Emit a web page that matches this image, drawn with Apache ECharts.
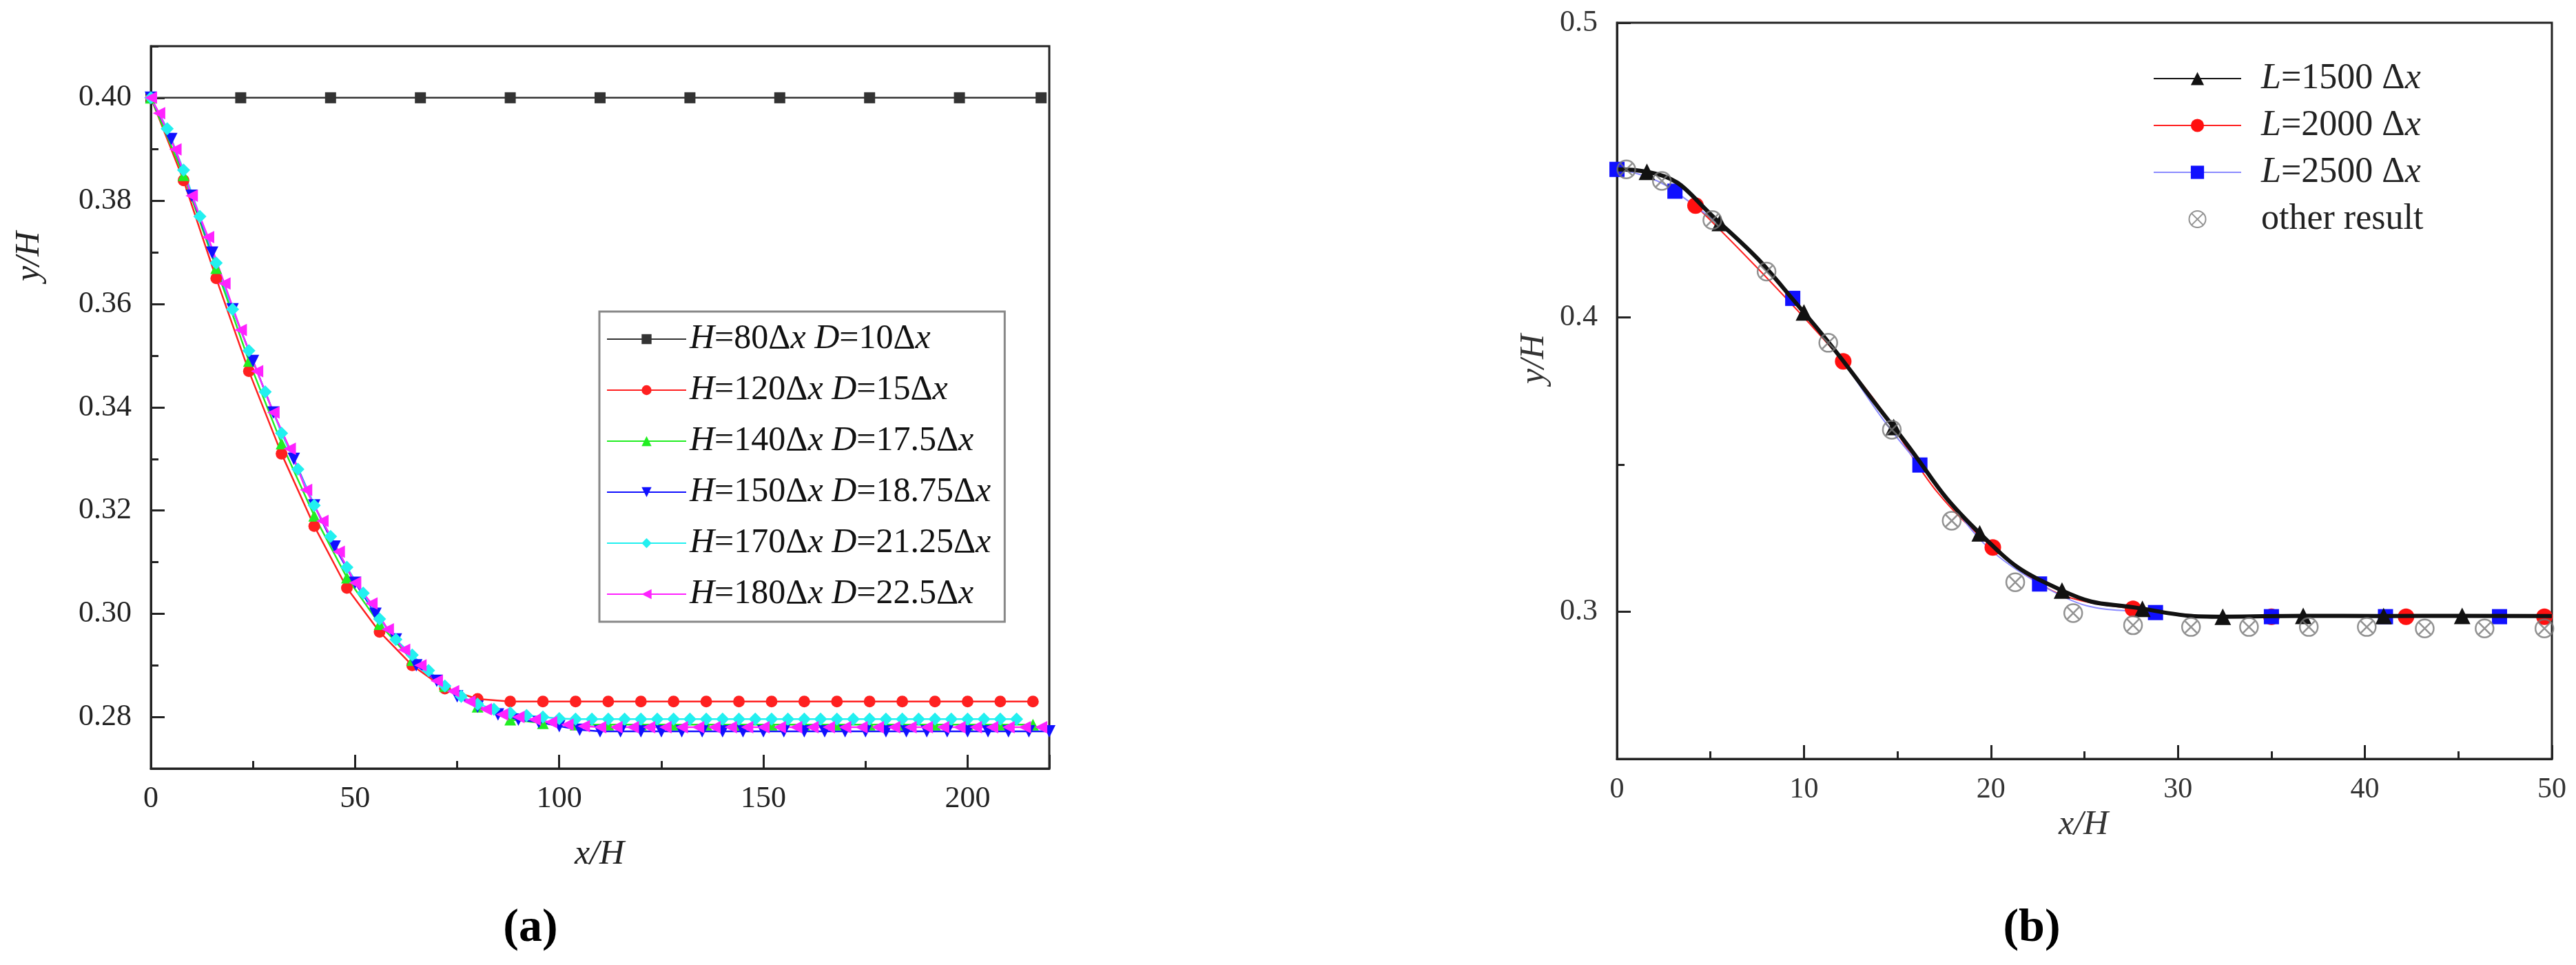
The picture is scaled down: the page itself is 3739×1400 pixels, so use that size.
<!DOCTYPE html>
<html><head><meta charset="utf-8">
<script src="https://cdn.jsdelivr.net/npm/echarts@6/dist/echarts.min.js"></script>
<style>html,body{margin:0;padding:0;background:#fff}#c{width:3739px;height:1400px}</style>
</head><body><div id="c"></div>
<script>
// ---------- Panel (a) data ----------
const aLabels = ['H=80Δx D=10Δx','H=120Δx D=15Δx','H=140Δx D=17.5Δx','H=150Δx D=18.75Δx','H=170Δx D=21.25Δx','H=180Δx D=22.5Δx'];
const aBlackX = [0,22,44,66,88,110,132,154,176,198,218];
const aBlackY = [0.40,0.40,0.40,0.40,0.40,0.40,0.40,0.40,0.40,0.40,0.40];
const aRedX = [0,8,16,24,32,40,48,56,64,72,80,88,96,104,112,120,128,136,144,152,160,168,176,184,192,200,208,216];
const aRedY = [0.400,0.384,0.365,0.347,0.331,0.317,0.305,0.2965,0.290,0.2855,0.2835,0.283,0.283,0.283,0.283,0.283,0.283,0.283,0.283,0.283,0.283,0.283,0.283,0.283,0.283,0.283,0.283,0.283];
const aGreenX = [0,8,16,24,32,40,48,56,64,72,80,88,96,104,112,120,128,136,144,152,160,168,176,184,192,200,208,216];
const aGreenY = [0.400,0.385,0.367,0.349,0.333,0.319,0.307,0.298,0.291,0.286,0.282,0.2795,0.2788,0.2785,0.2785,0.2785,0.2785,0.2785,0.2785,0.2785,0.2785,0.2785,0.2785,0.2785,0.2785,0.2785,0.2785,0.2785];
const aBlueX = [0,5,10,15,20,25,30,35,40,45,50,55,60,65,70,75,80,85,90,95,100,105,110,115,120,125,130,135,140,145,150,155,160,165,170,175,180,185,190,195,200,205,210,215,220];
const aBlueY = [0.400,0.392,0.381,0.370,0.359,0.349,0.339,0.330,0.321,0.313,0.306,0.300,0.295,0.290,0.287,0.284,0.282,0.2805,0.2795,0.279,0.2782,0.2775,0.2772,0.2772,0.2772,0.2772,0.2772,0.2772,0.2772,0.2772,0.2772,0.2772,0.2772,0.2772,0.2772,0.2772,0.2772,0.2772,0.2772,0.2772,0.2772,0.2772,0.2772,0.2772,0.2772];
const aCyanX = [0,4,8,12,16,20,24,28,32,36,40,44,48,52,56,60,64,68,72,76,80,84,88,92,96,100,104,108,112,116,120,124,128,132,136,140,144,148,152,156,160,164,168,172,176,180,184,188,192,196,200,204,208,212];
const aCyanY = [0.400,0.394,0.386,0.377,0.368,0.359,0.351,0.343,0.335,0.328,0.321,0.315,0.309,0.304,0.299,0.295,0.292,0.289,0.286,0.284,0.2825,0.2815,0.2808,0.2803,0.280,0.2797,0.2796,0.2796,0.2796,0.2796,0.2796,0.2796,0.2796,0.2796,0.2796,0.2796,0.2796,0.2796,0.2796,0.2796,0.2796,0.2796,0.2796,0.2796,0.2796,0.2796,0.2796,0.2796,0.2796,0.2796,0.2796,0.2796,0.2796,0.2796];
const aMagX = [0,2,6,10,14,18,22,26,30,34,38,42,46,50,54,58,62,66,70,74,78,82,86,90,94,98,102,106,110,114,118,122,126,130,134,138,142,146,150,154,158,162,166,170,174,178,182,186,190,194,198,202,206,210,214,218];
const aMagY = [0.400,0.397,0.390,0.381,0.373,0.364,0.355,0.347,0.339,0.332,0.324,0.318,0.312,0.306,0.302,0.297,0.293,0.290,0.287,0.285,0.283,0.2815,0.2805,0.280,0.2795,0.279,0.2785,0.2782,0.278,0.278,0.278,0.278,0.278,0.278,0.278,0.278,0.278,0.278,0.278,0.278,0.278,0.278,0.278,0.278,0.278,0.278,0.278,0.278,0.278,0.278,0.278,0.278,0.278,0.278,0.278,0.278];
const aYTicks = [0.28,0.30,0.32,0.34,0.36,0.38,0.40];
const aYMinor = [0.27,0.29,0.31,0.33,0.35,0.37,0.39,0.41];

// ---------- Panel (b) data ----------
const bLabels = ['L=1500Δx','L=2000Δx','L=2500Δx','other result'];
const bBlackX = [0,1.6,5.5,10,14.8,19.4,23.8,28.1,32.4,36.7,41.0,45.2,50];
const bBlackY = [0.4502,0.4494,0.432,0.4016,0.3627,0.3266,0.3072,0.301,0.2983,0.2986,0.2985,0.2986,0.2985];
const bRedX = [4.2,12.1,20.1,27.6,35.0,42.2,49.6];
const bRedY = [0.4379,0.385,0.3218,0.301,0.2983,0.2983,0.2983];
const bBlueX = [0,3.1,9.4,16.2,22.6,28.8,35,41.1,47.2];
const bBlueY = [0.4502,0.4428,0.4064,0.3498,0.3094,0.2997,0.2983,0.2983,0.2983];
const bOtherX = [0.5,2.4,5.1,8.0,11.3,14.7,17.9,21.3,24.4,27.6,30.7,33.8,37.0,40.1,43.2,46.4,49.6];
const bOtherY = [0.4502,0.4463,0.433,0.4155,0.3913,0.3618,0.3309,0.31,0.2995,0.2954,0.2948,0.2948,0.2948,0.2948,0.2943,0.2943,0.2943];
const bYTicks = [0.3,0.4,0.5];
const bYMinor = [0.25,0.35,0.45];

const F = 'Liberation Serif';
const zip = (xs, ys) => xs.map((x, i) => [x, ys[i]]);
const richIt = {i:{fontStyle:'italic',fontFamily:F,fontSize:50}};
function fmtA(n){
  return n.replace(/([HD])=/g,'{i|$1}=').replace(/Δx/g,'Δ{i|x}');
}
function fmtB(n){
  if(n.startsWith('L=')) return '{i|L}=' + n.slice(2).replace('Δx',' Δ{i|x}');
  return n;
}
const axisLineS = {show:true, lineStyle:{color:'#222', width:3}};
const aLine = (name, xs, ys, color, symbol, size, rot) => ({
  name, type:'line', xAxisIndex:0, yAxisIndex:0, data: zip(xs, ys),
  symbol, symbolSize:size, symbolRotate:rot||0, showAllSymbol:true,
  lineStyle:{color, width:2.5}, itemStyle:{color}, animation:false
});

const opt = {
  animation:false,
  grid:[
    {left:219, top:67, width:1304, height:1048, show:true, borderColor:'#222', borderWidth:3, backgroundColor:'transparent'},
    {left:2347, top:33, width:1357, height:1068, show:true, borderColor:'#222', borderWidth:3, backgroundColor:'transparent'}
  ],
  xAxis:[
    {type:'value', gridIndex:0, min:0, max:220, interval:50, axisLine:axisLineS,
     axisTick:{inside:true, length:20, lineStyle:{width:3,color:'#222'}},
     minorTick:{show:true, splitNumber:2, length:11, lineStyle:{width:3,color:'#222'}},
     splitLine:{show:false}, axisLabel:{showMaxLabel:false, fontFamily:F, fontSize:44, color:'#222', margin:22}},
    {type:'value', gridIndex:1, min:0, max:50, interval:10, axisLine:axisLineS,
     axisTick:{inside:true, length:20, lineStyle:{width:3,color:'#222'}},
     minorTick:{show:true, splitNumber:2, length:11, lineStyle:{width:3,color:'#222'}},
     splitLine:{show:false}, axisLabel:{fontFamily:F, fontSize:42, color:'#333', margin:24}}
  ],
  yAxis:[
    {type:'value', gridIndex:0, position:'left', min:0.27, max:0.41, axisLine:axisLineS,
     axisTick:{inside:true, length:20, customValues:aYTicks, lineStyle:{width:3,color:'#222'}},
     splitLine:{show:false},
     axisLabel:{customValues:aYTicks, formatter:v=>v.toFixed(2), fontFamily:F, fontSize:44, color:'#222', margin:28}},
    {type:'value', gridIndex:0, position:'left', offset:0, min:0.27, max:0.41, axisLine:{show:false},
     axisTick:{inside:true, length:11, customValues:aYMinor, lineStyle:{width:3,color:'#222'}},
     splitLine:{show:false}, axisLabel:{show:false}},
    {type:'value', gridIndex:1, position:'left', min:0.25, max:0.5, axisLine:axisLineS,
     axisTick:{inside:true, length:20, customValues:bYTicks, lineStyle:{width:3,color:'#222'}},
     splitLine:{show:false},
     axisLabel:{customValues:bYTicks, formatter:v=>v.toFixed(1), fontFamily:F, fontSize:44, color:'#333', margin:28}},
    {type:'value', gridIndex:1, position:'left', offset:0, min:0.25, max:0.5, axisLine:{show:false},
     axisTick:{inside:true, length:11, customValues:bYMinor, lineStyle:{width:3,color:'#222'}},
     splitLine:{show:false}, axisLabel:{show:false}}
  ],
  legend:[
    {data:aLabels, left:870, top:452, orient:'vertical', backgroundColor:'#fff',
     borderColor:'#888', borderWidth:3, padding:[14,20,14,10], itemGap:22,
     itemWidth:115, itemHeight:18,
     textStyle:{fontFamily:F, fontSize:50, lineHeight:52, color:'#111', rich:richIt}, formatter:fmtA},
    {data:bLabels, left:3120, top:82, orient:'vertical', itemGap:14,
     itemWidth:127, itemHeight:24,
     textStyle:{fontFamily:F, fontSize:52, lineHeight:54, color:'#222', padding:[0,0,0,24],
       rich:{i:{fontStyle:'italic',fontFamily:F,fontSize:52}}}, formatter:fmtB}
  ],
  graphic:[
    {type:'text', x:870, y:1240, style:{text:'x/H', font:'italic 50px "Liberation Serif"', fill:'#222', textAlign:'center', textVerticalAlign:'middle'}},
    {type:'text', x:3024, y:1197, style:{text:'x/H', font:'italic 50px "Liberation Serif"', fill:'#333', textAlign:'center', textVerticalAlign:'middle'}},
    {type:'text', x:43, y:372, rotation:Math.PI/2, style:{text:'y/H', font:'italic 50px "Liberation Serif"', fill:'#222', textAlign:'center', textVerticalAlign:'middle'}},
    {type:'text', x:2227, y:521, rotation:Math.PI/2, style:{text:'y/H', font:'italic 50px "Liberation Serif"', fill:'#333', textAlign:'center', textVerticalAlign:'middle'}},
    {type:'text', x:770, y:1347, style:{text:'(a)', font:'bold 68px "Liberation Serif"', fill:'#000', textAlign:'center', textVerticalAlign:'middle'}},
    {type:'text', x:2949, y:1347, style:{text:'(b)', font:'bold 68px "Liberation Serif"', fill:'#000', textAlign:'center', textVerticalAlign:'middle'}}
  ],
  series:[
    aLine(aLabels[0], aBlackX, aBlackY, '#333', 'rect', 16),
    aLine(aLabels[1], aRedX, aRedY, '#ff2020', 'circle', 17),
    aLine(aLabels[2], aGreenX, aGreenY, '#22ee22', 'triangle', 17),
    aLine(aLabels[3], aBlueX, aBlueY, '#1010ff', 'triangle', 18, 180),
    aLine(aLabels[4], aCyanX, aCyanY, '#22f0f0', 'diamond', 19),
    aLine(aLabels[5], aMagX, aMagY, '#ff22ff', 'triangle', 18, 90),
    {name:bLabels[1], type:'line', xAxisIndex:1, yAxisIndex:2, data:zip(bRedX,bRedY), smooth:true,
     symbol:'circle', symbolSize:24, lineStyle:{color:'#ff2020', width:2}, itemStyle:{color:'#ff1010'}, z:2, zlevel:0},
    {name:bLabels[2], type:'line', xAxisIndex:1, yAxisIndex:2, data:zip(bBlueX,bBlueY), smooth:true,
     symbol:'rect', symbolSize:22, lineStyle:{color:'#8a8aff', width:2}, itemStyle:{color:'#1010ff'}, z:2, zlevel:0},
    {name:bLabels[0], type:'line', xAxisIndex:1, yAxisIndex:2,
     data:zip(bBlackX,bBlackY).map((p,i)=> (i===0||i===bBlackX.length-1)?{value:p, symbol:'none'}:p),
     smooth:true, symbol:'triangle', symbolSize:24, lineStyle:{color:'#111', width:6}, itemStyle:{color:'#111'}, z:4},
    {name:bLabels[3], type:'scatter', xAxisIndex:1, yAxisIndex:2, data:zip(bOtherX,bOtherY),
     symbol:'path://M0,-10A10,10 0 1,1 0,10A10,10 0 1,1 0,-10Z M-7,-7L7,7M7,-7L-7,7', symbolSize:26,
     itemStyle:{color:'rgba(0,0,0,0)', borderColor:'#777', borderWidth:2.5}, z:5}
  ]
};
const chart = echarts.init(document.getElementById('c'));
chart.setOption(opt);
</script></body></html>
